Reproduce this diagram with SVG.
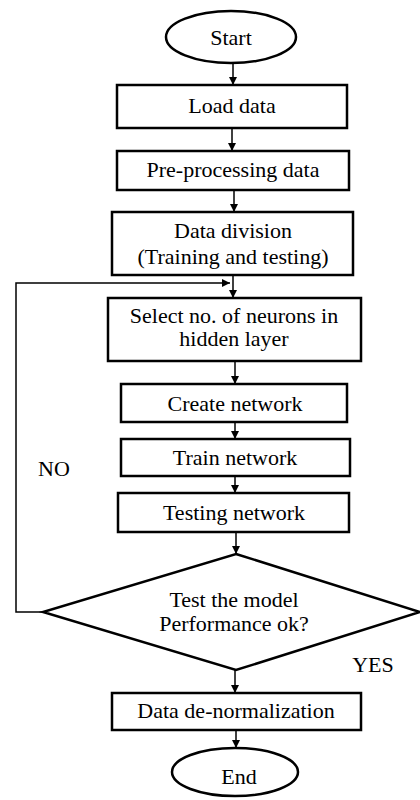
<svg xmlns="http://www.w3.org/2000/svg" width="420" height="800" viewBox="0 0 420 800">
<style>
.n{fill:#fff;stroke:#000;stroke-width:2.5}
.t{font-family:"Liberation Serif","Times New Roman",serif;font-size:22px;fill:#000;text-anchor:middle}
.c{fill:none;stroke:#000;stroke-width:1.5}
</style>
<defs>
<marker id="ah" viewBox="0 0 10 10" refX="10" refY="5" markerWidth="8" markerHeight="8" markerUnits="userSpaceOnUse" orient="auto">
<path d="M0,0 L10,5 L0,10 Z" fill="#000"/>
</marker>
</defs>
<rect width="420" height="800" fill="#fff"/>
<g id="connectors">
<line class="c" x1="233" y1="63" x2="233" y2="85" marker-end="url(#ah)"/>
<line class="c" x1="232" y1="128" x2="232" y2="151" marker-end="url(#ah)"/>
<line class="c" x1="234" y1="190" x2="234" y2="212" marker-end="url(#ah)"/>
<line class="c" x1="233" y1="275" x2="233" y2="298" marker-end="url(#ah)"/>
<polyline class="c" points="43,612 16,612 16,283 230,283" marker-end="url(#ah)"/>
<line class="c" x1="235" y1="361" x2="235" y2="384" marker-end="url(#ah)"/>
<line class="c" x1="235" y1="422" x2="235" y2="439" marker-end="url(#ah)"/>
<line class="c" x1="235" y1="476" x2="235" y2="493" marker-end="url(#ah)"/>
<line class="c" x1="236" y1="532" x2="236" y2="554" marker-end="url(#ah)"/>
<line class="c" x1="235" y1="670" x2="235" y2="693" marker-end="url(#ah)"/>
<line class="c" x1="236" y1="730" x2="236" y2="748" marker-end="url(#ah)"/>
</g>
<g id="start"><ellipse class="n" cx="231" cy="37" rx="65" ry="26"/><text class="t" x="231" y="45">Start</text></g>
<g id="load"><rect class="n" x="117" y="85" width="230" height="43"/><text class="t" x="232" y="113">Load data</text></g>
<g id="preprocess"><rect class="n" x="117" y="151" width="232" height="39"/><text class="t" x="233" y="177">Pre-processing data</text></g>
<g id="division"><rect class="n" x="112" y="212" width="241" height="63"/><text class="t" x="233" y="238">Data division</text><text class="t" x="233" y="264">(Training and testing)</text></g>
<g id="select"><rect class="n" x="108" y="298" width="253" height="63"/><text class="t" x="234" y="323">Select no. of neurons in</text><text class="t" x="234" y="346">hidden layer</text></g>
<g id="create"><rect class="n" x="121" y="384" width="226" height="38"/><text class="t" x="235" y="411">Create network</text></g>
<g id="train"><rect class="n" x="121" y="439" width="229" height="37"/><text class="t" x="235" y="465">Train network</text></g>
<g id="testing"><rect class="n" x="118" y="493" width="231" height="39"/><text class="t" x="234" y="520">Testing network</text></g>
<g id="decision"><polygon class="n" points="236,554 420,612 236,670 43,612"/><text class="t" x="234" y="607">Test the model</text><text class="t" x="234" y="631">Performance ok?</text></g>
<g id="denorm"><rect class="n" x="112" y="693" width="249" height="37"/><text class="t" x="236" y="718">Data de-normalization</text></g>
<g id="end"><ellipse class="n" cx="235" cy="772" rx="63" ry="24"/><text class="t" x="239" y="784">End</text></g>
<text class="t" x="54" y="476">NO</text>
<text class="t" x="373" y="672">YES</text>
</svg>
